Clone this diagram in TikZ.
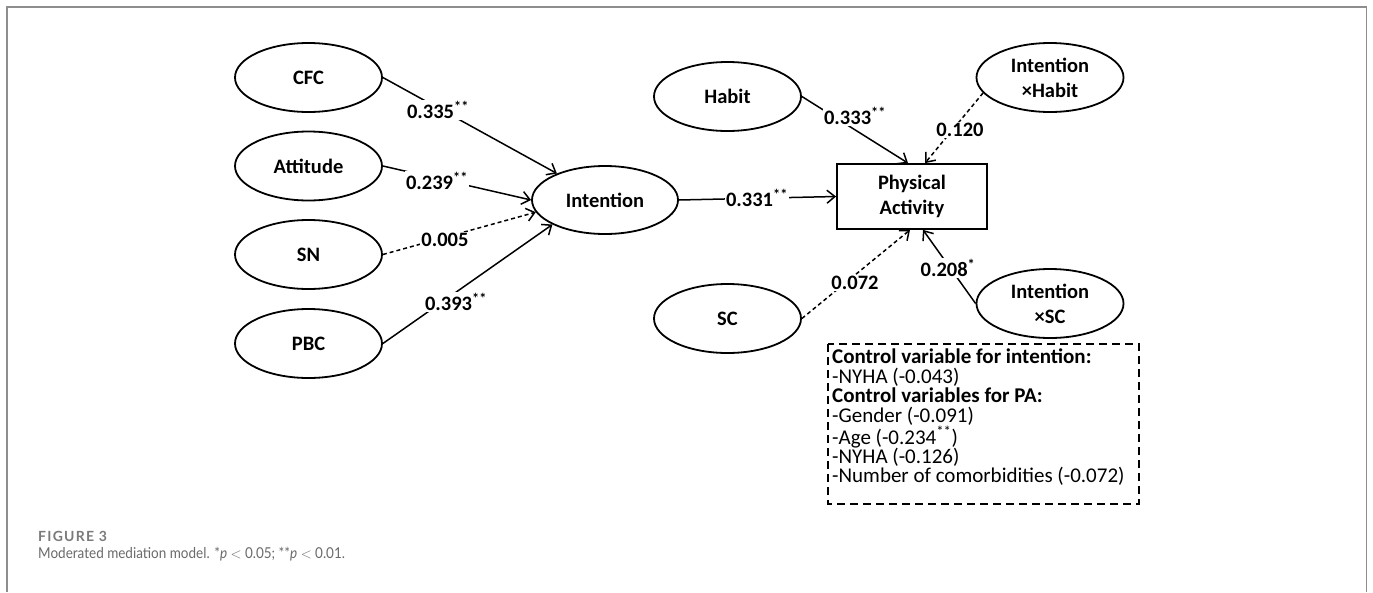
\documentclass[tikz,border=0pt]{standalone}
\usepackage{fontspec}
\setmainfont{Carlito}
\newfontfamily\capfont[FakeStretch=0.9]{Lato}
\newfontfamily\capfontsp[LetterSpace=9]{Lato}
\usetikzlibrary{arrows.meta,shapes.geometric}
\definecolor{framegray}{HTML}{8E8E8E}
\definecolor{capgray}{HTML}{6A6A6A}
\definecolor{fignogray}{HTML}{7A7A7A}
\begin{document}
\begin{tikzpicture}[x=1pt,y=-1pt,
  latent/.style={ellipse, draw, line width=1.8pt, minimum width=147pt, minimum height=69pt, inner sep=0pt, align=center, font=\fontsize{20.5}{25}\selectfont\bfseries},
  obs/.style={rectangle, draw, line width=1.8pt, minimum width=150pt, minimum height=65pt, inner sep=0pt, align=center, font=\fontsize{20.5}{25}\selectfont\bfseries},
  conn/.style={line width=1.5pt, -{Straight Barb[length=8pt,width=13pt,line width=1.5pt]}},
  nsconn/.style={conn, dash pattern=on 4pt off 3pt},
  coef/.style={fill=white, inner sep=1.5pt, font=\fontsize{20.5}{24}\selectfont\bfseries},
  ctrlbox/.style={draw, line width=1.6pt, dash pattern=on 8pt off 5pt},
  ctrltext/.style={anchor=north west, inner sep=0pt, align=left, font=\fontsize{21}{19.4}\selectfont}
]
\useasboundingbox (0,0) rectangle (1373,592);
% frame
\draw[framegray, line width=1.5pt] (7,592) -- (7,7) -- (1366.5,7) -- (1366.5,592);

% nodes
\node[latent] (cfc) at (308.5,77.5) {CFC};
\node[latent] (att) at (308.5,166) {Attitude};
\node[latent] (sn)  at (308.5,254.5) {SN};
\node[latent] (pbc) at (308.5,343.5) {PBC};
\node[latent, minimum width=146pt, minimum height=68pt] (int) at (605,200) {Intention};
\node[latent] (hab) at (727.5,96.5) {Habit};
\node[latent] (sc)  at (727.5,318.5) {SC};
\node[latent] (ixh) at (1050,77.5) {Intention\\\texttimes Habit};
\node[latent] (ixs) at (1050,303.5) {Intention\\\texttimes SC};
\node[obs] (pa) at (912,196.5) {Physical\\Activity};

% connectors
\draw[conn] (cfc.east) -- (int);
\draw[conn] (att.east) -- (int.west);
\draw[nsconn] (sn.east) -- (int.190);
\draw[conn] (pbc.east) -- (int.205);
\draw[conn] (int.east) -- (pa.west);
\draw[conn] (hab.east) -- ([xshift=-4pt]pa.north);
\draw[nsconn] (ixh.193) -- ([xshift=13pt]pa.north);
\draw[nsconn] (sc.east) -- ([xshift=-2pt]pa.south);
\draw[conn] (ixs.west) -- ([xshift=11pt]pa.south);

% coefficient labels
\node[coef] (l1) at (438,110) {0.335\textsuperscript{**}};
\node[coef] (l2) at (437,181) {0.239\textsuperscript{**}};
\node[coef] (l3) at (445,240) {0.005};
\node[coef] (l4) at (456,302) {0.393\textsuperscript{**}};
\node[coef] (l5) at (757,198) {0.331\textsuperscript{**}};
\node[coef] (l6) at (855,116) {0.333\textsuperscript{**}};
\node[coef] (l7) at (960,130) {0.120};
\node[coef] (l8) at (855,283) {0.072};
\node[coef] (l9) at (948,268) {0.208\textsuperscript{*}};

% control variables box
\draw[ctrlbox] (828,344) rectangle (1139,504);
\node[ctrltext] (ctrl) at (832,349) {\textbf{Control variable for intention:}\\
-NYHA (-0.043)\\
\textbf{Control variables for PA:}\\
-Gender (-0.091)\\
-Age (-0.234\textsuperscript{**})\\
-NYHA (-0.126)\\
-Number of comorbidities (-0.072)};

% caption
\node[anchor=base west, inner sep=0pt, text=fignogray, font=\capfontsp\fontsize{14}{16}\selectfont\bfseries] (figno) at (38,541.7) {FIGURE 3};
\node[anchor=base west, inner sep=0pt, text=capgray, font=\capfont\fontsize{15}{17}\selectfont] (cap) at (38,558.3) {Moderated mediation model. *\textit{p} \(<\) 0.05; **\textit{p} \(<\) 0.01.};
\end{tikzpicture}
\end{document}
